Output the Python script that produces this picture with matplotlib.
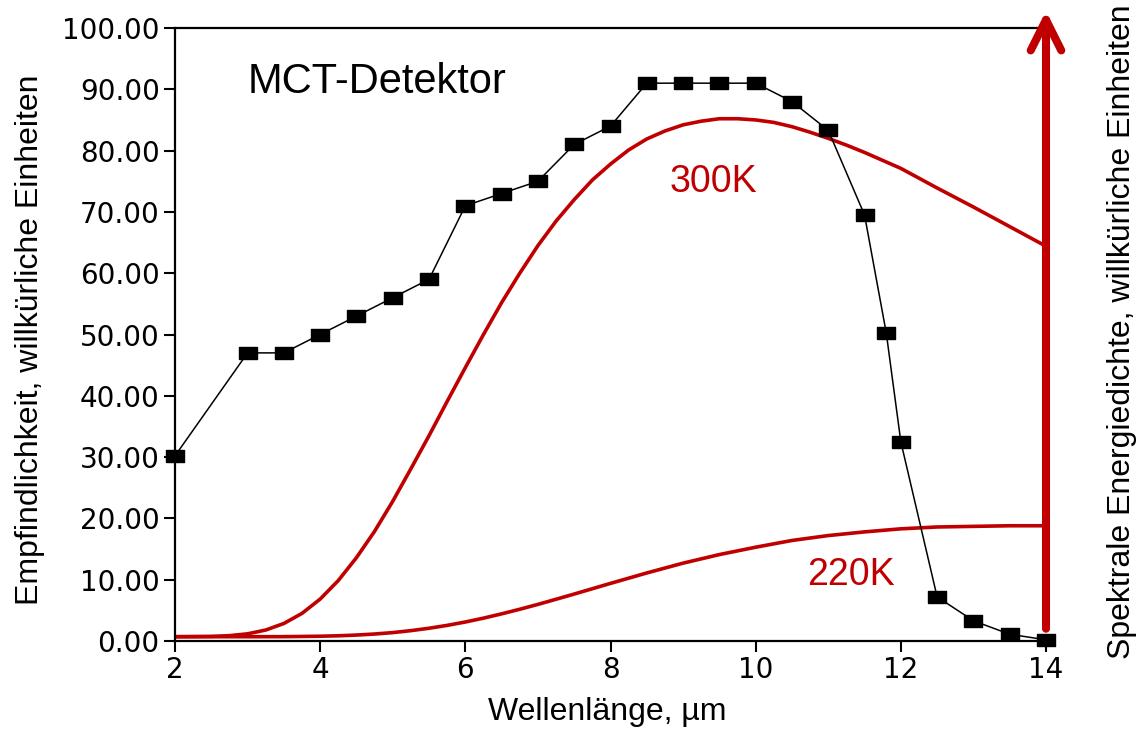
import matplotlib
matplotlib.use("Agg")
import matplotlib.pyplot as plt

# MCT detector responsivity (black squares)
det_x = [2, 3, 3.5, 4, 4.5, 5, 5.5, 6, 6.5, 7, 7.5, 8, 8.5, 9, 9.5, 10,
         10.5, 11, 11.5, 11.8, 12, 12.5, 13, 13.5, 14]
det_y = [30.2, 47, 47, 50, 53, 56, 59, 71, 73, 75, 81, 84, 91, 91, 91, 91,
         88, 83.3, 69.5, 50.2, 32.5, 7.2, 3.3, 1.1, 0.2]

# 300 K spectral energy density
wl300 = [2, 2.5, 2.75, 3, 3.25, 3.5, 3.75, 4, 4.25, 4.5, 4.75, 5, 5.25, 5.5,
         5.75, 6, 6.25, 6.5, 6.75, 7, 7.25, 7.5, 7.75, 8, 8.25, 8.5, 8.75,
         9, 9.25, 9.5, 9.75, 10, 10.25, 10.5, 10.75, 11, 11.25, 11.5, 12,
         12.5, 13, 13.5, 14]
t300 = [0.7, 0.75, 0.87, 1.17, 1.79, 2.86, 4.51, 6.84, 9.87, 13.6, 17.9,
        22.8, 28.1, 33.5, 39.1, 44.6, 50.0, 55.2, 60.0, 64.5, 68.5, 72.0,
        75.2, 77.8, 80.1, 81.9, 83.2, 84.2, 84.8, 85.2, 85.2, 85.0, 84.6,
        83.9, 83.0, 82.0, 80.9, 79.7, 77.1, 73.9, 70.8, 67.6, 64.4]

# 220 K spectral energy density
wl220 = [2, 2.5, 3, 3.5, 4, 4.25, 4.5, 4.75, 5, 5.25, 5.5, 5.75, 6, 6.25,
         6.5, 6.75, 7, 7.25, 7.5, 7.75, 8, 8.5, 9, 9.5, 10, 10.5, 11, 11.5,
         12, 12.5, 13, 13.5, 14]
t220 = [0.7, 0.7, 0.7, 0.71, 0.78, 0.85, 0.97, 1.14, 1.37, 1.69, 2.08, 2.55,
        3.1, 3.73, 4.43, 5.18, 5.97, 6.81, 7.66, 8.53, 9.4, 11.1, 12.7, 14.1,
        15.3, 16.4, 17.2, 17.8, 18.3, 18.6, 18.7, 18.8, 18.8]

xticks = [2, 4, 6, 8, 10, 12, 14]
yticks = [0, 10, 20, 30, 40, 50, 60, 70, 80, 90, 100]

red = "#c00000"
lab_font = "Liberation Sans"

fig = plt.figure(figsize=(11.38, 7.31), dpi=100)
ax = fig.add_axes([175 / 1138, 1 - 641 / 731, 871 / 1138, 613 / 731])

ax.plot(wl300, t300, color=red, lw=2.6, solid_capstyle="round",
        solid_joinstyle="round", zorder=2)
ax.plot(wl220, t220, color=red, lw=2.6, solid_capstyle="round",
        solid_joinstyle="round", zorder=2)

rect = [(-1, -0.72), (1, -0.72), (1, 0.72), (-1, 0.72), (-1, -0.72)]
ax.plot(det_x, det_y, color="black", lw=1.1, marker=rect, markersize=12.5,
        zorder=4, clip_on=False)

# red arrow for the right axis
ax.annotate("", xy=(14, 102.8), xytext=(14, 2.0),
            arrowprops=dict(arrowstyle="->, head_length=2.2, head_width=1.1",
                            color=red, lw=5.8, shrinkA=0, shrinkB=0,
                            capstyle="round", joinstyle="round"),
            annotation_clip=False, zorder=3)

ax.set_xlim(2, 14)
ax.set_ylim(0, 100)
ax.set_xticks(xticks)
ax.set_yticks(yticks)
ax.set_yticklabels(["%.2f" % v for v in yticks])
ax.spines["right"].set_visible(False)
for s in ["left", "bottom", "top"]:
    ax.spines[s].set_linewidth(1.6)
ax.tick_params(axis="both", direction="out", length=8, width=1.5,
               labelsize=20, pad=3)
for t in ax.get_xticklabels() + ax.get_yticklabels():
    t.set_family("DejaVu Sans")

ax.text(3.0, 91.2, "MCT-Detektor", fontsize=30, family=lab_font,
        ha="left", va="center")
ax.text(8.82, 74.9, "300K", fontsize=27, family=lab_font, color=red,
        ha="left", va="center")
ax.text(10.71, 10.8, "220K", fontsize=27, family=lab_font, color=red,
        ha="left", va="center")

ax.set_xlabel("Wellenlänge, µm", fontsize=23, family=lab_font, va="center")
ax.xaxis.set_label_coords(0.496, -0.116)
ax.set_ylabel("Empfindlichkeit, willkürliche Einheiten", fontsize=23,
              family=lab_font, va="center")
ax.yaxis.set_label_coords(-0.166, 0.491)
fig.text(1122 / 1138, 1 - 332 / 731,
         "Spektrale Energiedichte, willkürliche Einheiten", fontsize=23,
         family=lab_font, rotation=90, ha="center", va="center")

fig.savefig("out.png", dpi=100)
